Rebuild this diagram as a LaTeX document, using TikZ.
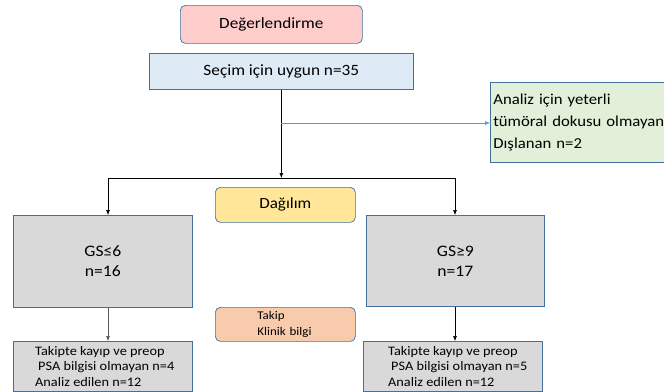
\documentclass[tikz,border=0pt]{standalone}
\usepackage{fontspec}
\setmainfont{Carlito}[FakeStretch=1.1]
\usetikzlibrary{positioning,arrows.meta}
\definecolor{kenar}{HTML}{41719C}
\definecolor{pembe}{HTML}{FFCCCC}
\definecolor{mavi}{HTML}{DEEBF7}
\definecolor{yesil}{HTML}{E2F0D9}
\definecolor{sari}{HTML}{FFE699}
\definecolor{gri}{HTML}{D9D9D9}
\definecolor{turuncu}{HTML}{F8CBAD}
\definecolor{okmavi}{HTML}{5B9BD5}
\begin{document}
\begin{tikzpicture}[x=1pt, y=-1pt,
		kutu/.style = {draw=kenar, line width=0.7pt, anchor=north west, inner sep=0pt},
		yuvarlak/.style = {kutu, rounded corners=5pt},
		ok/.style = {-{Latex[length=5pt,width=4pt]}, line width=0.6pt},
		altyazi/.style = {anchor=west, align=left, inner sep=0pt, font=\fontsize{13}{15.8}\selectfont}]
	\clip (0,0) rectangle (664,391);
	%Ust kutular
	\node[yuvarlak, fill=pembe, minimum width=182pt, minimum height=38pt,
		font=\fontsize{15.6}{19}\selectfont] (deger) at (180,5) {Değerlendirme};
	\node[kutu, fill=mavi, minimum width=264pt, minimum height=36pt,
		font=\fontsize{15.7}{18}\selectfont] (secim) at (149,53) {Seçim için uygun n=35};
	%Dislanan
	\node[kutu, fill=yesil, minimum width=200pt, minimum height=80pt, text width=194pt,
		align=left, inner xsep=3pt, font=\fontsize{15.2}{22}\selectfont] (disla) at (490,82)
		{Analiz için yeterli\\tümöral dokusu olmayan\\Dışlanan n=2};
	%Orta kutular
	\node[yuvarlak, fill=sari, minimum width=140pt, minimum height=35pt,
		font=\fontsize{15.5}{17}\selectfont] (dagilim) at (215,187) {Dağılım};
	\node[yuvarlak, fill=turuncu, minimum width=140pt, minimum height=34pt, text width=120pt,
		align=left, inner xsep=0pt, font=\fontsize{11.8}{16}\selectfont] (takip) at (215,307)
		{\hspace*{32pt}Takip\\\hspace*{32pt}Klinik bilgi};
	%GS kutulari
	\node[kutu, fill=gri, minimum width=179pt, minimum height=92pt, align=center,
		font=\fontsize{16}{20}\selectfont] (gsalt) at (13,215) {GS≤6\\n=16};
	\node[kutu, fill=gri, minimum width=178pt, minimum height=91pt, align=center,
		font=\fontsize{16}{20}\selectfont] (gsust) at (366,215) {GS≥9\\n=17};
	%Alt kutular
	\node[kutu, fill=gri, minimum width=179pt, minimum height=50pt] (analizalt) at (13,341) {};
	\node[kutu, fill=gri, minimum width=179pt, minimum height=50pt] (analizust) at (363,341) {};
	\node[altyazi] (metinalt) at (analizalt.west) [xshift=22pt]
		{Takipte kayıp ve preop\\\hspace*{3pt}PSA bilgisi olmayan n=4\\Analiz edilen n=12};
	\node[altyazi] (metinust) at (analizust.west) [xshift=25pt]
		{Takipte kayıp ve preop\\\hspace*{3pt}PSA bilgisi olmayan n=5\\Analiz edilen n=12};
	%Baglantilar
	\coordinate (sol) at (108,178);
	\coordinate (sag) at (455,178);
	\coordinate (dal) at (281,123);
	\draw[ok] (secim.south) -- (secim.south |- sol);
	\draw[line width=0.6pt] (sol) -- (sag);
	\draw[ok] (sol) -- (sol |- gsalt.north);
	\draw[ok] (sag) -- (sag |- gsust.north);
	\draw[ok, draw=okmavi, line width=0.5pt] (dal) -- (dal -| disla.west);
	\draw[ok, draw=gray!70!black] (gsalt.south -| sol) -- (sol |- analizalt.north);
	\draw[ok] (gsust.south -| sag) -- (sag |- analizust.north);
\end{tikzpicture}
\end{document}
